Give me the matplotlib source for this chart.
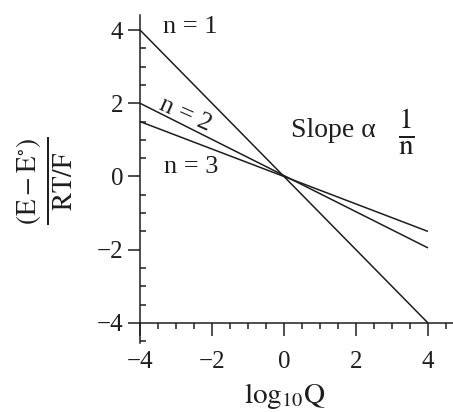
import numpy as np
import matplotlib
matplotlib.use("Agg")
import matplotlib.pyplot as plt
from matplotlib.ticker import MultipleLocator

plt.rcParams['font.family'] = ['Liberation Serif', 'DejaVu Serif']
plt.rcParams['mathtext.fontset'] = 'stix'

# data: log10Q vs (E - E°)/(RT/F)
n_values = [1, 2, 3]
x_ends = [-4, 4]
y_ends_n1 = [4.0, -4.0]
y_ends_n2 = [2.0, -1.95]
y_ends_n3 = [1.5, -1.5]
line_labels = ['n = 1', 'n = 2', 'n = 3']

W, H = 453, 412
fig = plt.figure(figsize=(W / 100, H / 100), dpi=100)

# axes placed so that x=-4 sits at px 140, x=4 at px 428, y=4 at px 30, y=-4 at px 323
left = 140 / W
bottom = (H - 343) / H
ax = fig.add_axes([left, bottom, 1 - left, (343 - 15) / H])
ax.set_xlim(-4, 4 + 25 / 36)
ax.set_ylim(-4 - 20 / 36.6, 4 + 15 / 36.6)

col = '#1e1e1e'
for ys in [y_ends_n1, y_ends_n2, y_ends_n3]:
    ax.plot(x_ends, ys, color=col, lw=1.1, solid_capstyle='butt')

ax.spines['top'].set_visible(False)
ax.spines['right'].set_visible(False)
ax.spines['bottom'].set_position(('data', -4))
for s in ['left', 'bottom']:
    ax.spines[s].set_color(col)
    ax.spines[s].set_linewidth(1.1)

ax.xaxis.set_minor_locator(MultipleLocator(0.5))
ax.yaxis.set_minor_locator(MultipleLocator(0.5))
ax.set_xticks([-4, -2, 0, 2, 4])
ax.set_yticks([-4, -2, 0, 2, 4])

ax.tick_params(axis='x', which='major', direction='out', length=9, width=1.1,
               color=col, labelsize=18, pad=11, labelcolor=col)
ax.tick_params(axis='x', which='minor', direction='out', length=4.5, width=1.1, color=col)
ax.tick_params(axis='y', which='major', direction='out', length=9, width=1.1,
               color=col, labelsize=18, pad=3, labelcolor=col)
ax.tick_params(axis='y', which='minor', direction='in', length=4, width=1.1, color=col)

# labels on the lines
ax.text(-2.6, 4.07, line_labels[0], fontsize=19, ha='center', va='center', color=col)
ax.text(-2.75, 1.69, line_labels[1], fontsize=19, ha='center', va='center', color=col,
        rotation=-24)
ax.text(-2.58, 0.27, line_labels[2], fontsize=19, ha='center', va='center', color=col)
ax.text(0.2, 1.09, 'Slope α', fontsize=20, ha='left', va='baseline', color=col)
ax.text(3.4, 1.22, r'$\frac{1}{\mathrm{n}}$', fontsize=30, ha='center', va='center',
        color=col)

fig.text(45 / W, 1 - 181 / H,
         r'$\frac{\left(\mathrm{E}-\mathrm{E}^{\circ}\right)}{\mathrm{RT/F}}$',
         rotation=90, fontsize=28, ha='center', va='center', color=col)
fig.text(285 / W, 1 / H, r'$\mathrm{log}_{10}\mathrm{Q}$', fontsize=21,
         ha='center', va='bottom', color=col)

fig.savefig('out.png', dpi=100)
